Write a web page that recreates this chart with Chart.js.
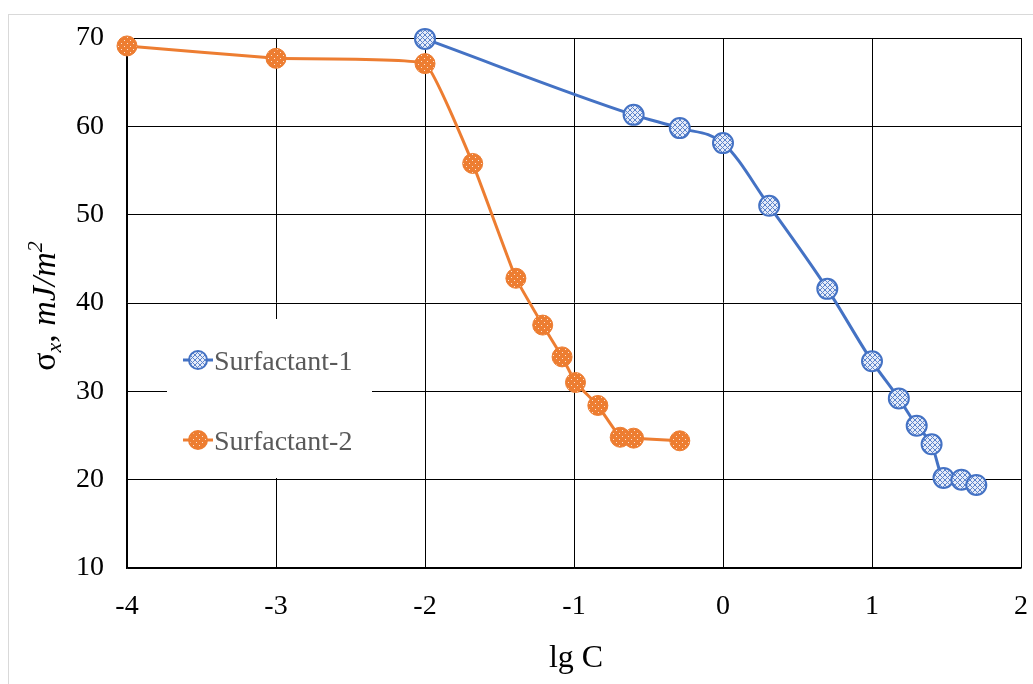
<!DOCTYPE html>
<html>
<head>
<meta charset="utf-8">
<script src="https://cdn.jsdelivr.net/npm/chart.js@4/dist/chart.umd.min.js"></script>
<style>
html,body{margin:0;padding:0;background:#fff;}
canvas{display:block;}
</style>
</head>
<body>
<canvas id="c" width="1033" height="684"></canvas>
<script>
// ---- data ----
const seriesNames = ["Surfactant-1", "Surfactant-2"];
const lgC1 = [-2.0, -0.6, -0.29, 0.0, 0.31, 0.70, 1.0, 1.18, 1.30, 1.40, 1.48, 1.60, 1.70];
const sigma1 = [69.9, 61.3, 59.8, 58.1, 51.0, 41.6, 33.4, 29.2, 26.1, 24.0, 20.2, 20.0, 19.4];
const lgC2 = [-4.0, -3.0, -2.0, -1.68, -1.39, -1.21, -1.08, -0.99, -0.84, -0.69, -0.60, -0.29];
const sigma2 = [69.1, 67.7, 67.1, 55.8, 42.8, 37.5, 33.9, 31.0, 28.4, 24.8, 24.7, 24.4];
const xTicks = [-4, -3, -2, -1, 0, 1, 2];
const yTicks = [10, 20, 30, 40, 50, 60, 70];
const xTitle = "lg C";

const BLUE = "#4472C4", ORANGE = "#ED7D31";
const SERIF = "'Liberation Serif','DejaVu Serif',serif";

function makePattern(kind) {
  const t = document.createElement("canvas");
  const g = t.getContext("2d");
  if (kind === "hatch") {
    t.width = 5; t.height = 5;
    g.fillStyle = "#E6ECF8"; g.fillRect(0,0,5,5);
    g.strokeStyle = "#5B83CC"; g.lineWidth = 1;
    g.beginPath(); g.moveTo(0,0); g.lineTo(5,5); g.moveTo(5,0); g.lineTo(0,5); g.stroke();
  } else {
    t.width = 6; t.height = 6;
    g.fillStyle = ORANGE; g.fillRect(0,0,6,6);
    g.fillStyle = "#FBE3D2";
    g.fillRect(1,1,1,1); g.fillRect(4,4,1,1);
  }
  return g.createPattern(t, "repeat");
}
const pat1 = makePattern("hatch");
const pat2 = makePattern("dots");

const toXY = (xs, ys) => xs.map((x, i) => ({x: x, y: ys[i]}));

const decor = {
  id: "decor",
  beforeDraw(chart) {
    const c = chart.ctx;
    c.save();
    c.fillStyle = "#fff"; c.fillRect(0,0,chart.width,chart.height);
    c.strokeStyle = "#D9D9D9"; c.lineWidth = 1;
    c.strokeRect(8.5, 14.5, 1100, 800);
    c.restore();
  },
  beforeDatasetsDraw(chart) {
    const c = chart.ctx;
    c.save();
    // legend box
    c.fillStyle = "#fff";
    c.fillRect(167, 319, 205, 159);
    const items = [
      {name: seriesNames[0], color: BLUE, fill: pat1, y: 360},
      {name: seriesNames[1], color: ORANGE, fill: pat2, y: 440}
    ];
    items.forEach(it => {
      c.strokeStyle = it.color; c.lineWidth = 3;
      c.beginPath(); c.moveTo(183, it.y); c.lineTo(213, it.y); c.stroke();
      c.beginPath(); c.arc(198, it.y, 9, 0, Math.PI*2);
      c.fillStyle = it.fill; c.fill();
      c.lineWidth = 2; c.stroke();
      c.fillStyle = "#595959";
      c.font = "28px " + SERIF;
      c.textBaseline = "alphabetic"; c.textAlign = "left";
      c.fillText(it.name, 214, it.y + 10);
    });
    c.restore();
  },
  afterDraw(chart) {
    const c = chart.ctx;
    c.save();
    // x title
    c.fillStyle = "#000";
    c.font = "32px " + SERIF;
    c.textAlign = "center"; c.textBaseline = "alphabetic";
    c.fillText(xTitle, 576, 667);
    // y title: σx, mJ/m2 rotated
    c.translate(55, 306);
    c.rotate(-Math.PI/2);
    const parts = [
      {t: "σ", f: "34px " + SERIF, dy: 0},
      {t: "x", f: "italic 22px " + SERIF, dy: 6},
      {t: ", ", f: "34px " + SERIF, dy: 0},
      {t: "mJ/m", f: "italic 34px " + SERIF, dy: 0},
      {t: "2", f: "italic 22px " + SERIF, dy: -13}
    ];
    let total = 0;
    parts.forEach(p => { c.font = p.f; p.w = c.measureText(p.t).width; total += p.w; });
    let x = -total/2;
    c.textAlign = "left"; c.textBaseline = "alphabetic";
    parts.forEach(p => { c.font = p.f; c.fillText(p.t, x, p.dy); x += p.w; });
    c.restore();
  }
};

new Chart(document.getElementById("c"), {
  type: "line",
  data: {
    datasets: [
      {
        label: seriesNames[0], data: toXY(lgC1, sigma1),
        borderColor: BLUE, borderWidth: 3, cubicInterpolationMode: "monotone",
        pointRadius: 10, pointHoverRadius: 10, pointBorderWidth: 2,
        pointBorderColor: BLUE, pointBackgroundColor: pat1, clip: false
      },
      {
        label: seriesNames[1], data: toXY(lgC2, sigma2),
        borderColor: ORANGE, borderWidth: 3, tension: 0.1,
        pointRadius: 10, pointHoverRadius: 10, pointBorderWidth: 1,
        pointBorderColor: ORANGE, pointBackgroundColor: pat2, clip: false
      }
    ]
  },
  options: {
    responsive: false, animation: false, devicePixelRatio: 1,
    layout: {padding: {left: 0, top: 38, right: 11, bottom: 0}},
    plugins: {legend: {display: false}, tooltip: {enabled: false}},
    scales: {
      x: {
        type: "linear", min: -4, max: 2,
        afterBuildTicks: s => { s.ticks = xTicks.map(v => ({value: v})); },
        afterFit: s => { s.height = 116; s.paddingLeft = 0; s.paddingRight = 0; },
        grid: {color: "#000", lineWidth: 1, drawTicks: false},
        border: {color: "#000", width: 1.5},
        ticks: {color: "#000", font: {family: SERIF, size: 28}, padding: 22, maxRotation: 0}
      },
      y: {
        type: "linear", min: 10, max: 70,
        afterBuildTicks: s => { s.ticks = yTicks.map(v => ({value: v})); },
        afterFit: s => { s.width = 127; s.paddingTop = 0; s.paddingBottom = 0; },
        grid: {color: "#000", lineWidth: 1, drawTicks: false},
        border: {color: "#000", width: 1.5},
        ticks: {color: "#000", font: {family: SERIF, size: 28}, padding: 23}
      }
    }
  },
  plugins: [decor]
});
</script>
</body>
</html>
